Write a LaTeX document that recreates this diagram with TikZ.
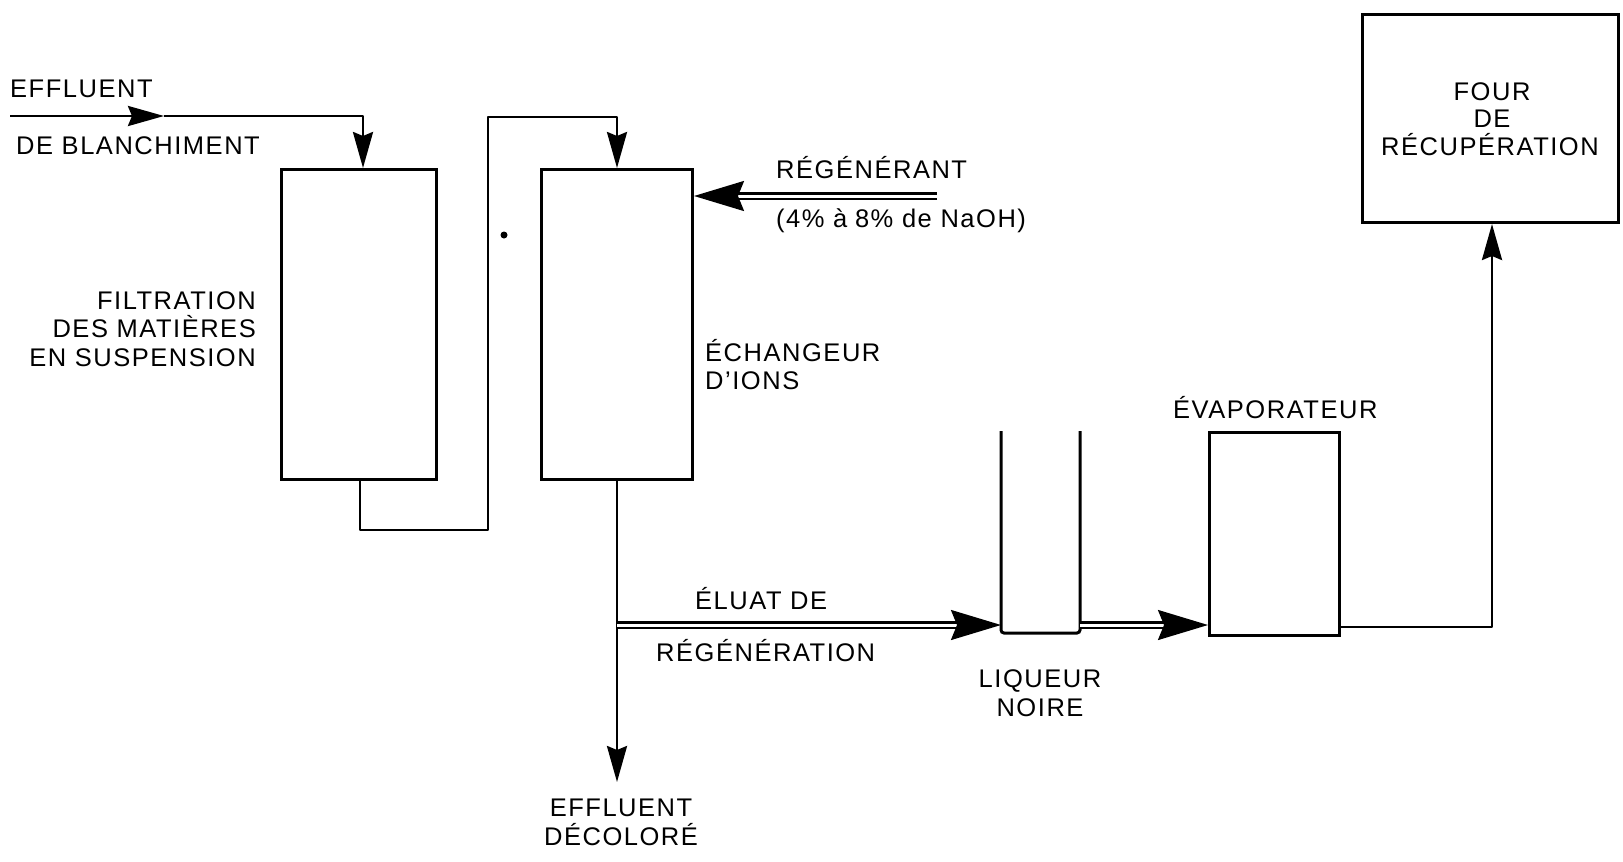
\documentclass[tikz,border=0pt]{standalone}
\usepackage{fontspec}
\setmainfont{Liberation Sans}[LetterSpace=6]
\usetikzlibrary{arrows.meta,calc}
\begin{document}
\begin{tikzpicture}[x=1pt,y=-1pt,
  lbl/.style={inner sep=0pt, font=\fontsize{25.5}{28}\selectfont},
  box/.style={draw, line width=3pt, inner sep=0pt, anchor=north west},
  pipe/.style={line width=2.8pt, line join=round},
  arr/.style={pipe, -{Stealth[length=36pt,width=20pt,inset=4pt]}},
  dbl/.style={line width=2.2pt, double, double distance=3pt, -{Stealth[length=50pt,width=30pt,inset=6pt]}}]
\useasboundingbox (0,0) rectangle (1623,862);

% boxes
\node[box, minimum width=155pt, minimum height=310pt] (filt) at (280,168) {};
\node[box, minimum width=151pt, minimum height=310pt] (ion) at (540,168) {};
\node[box, minimum width=130pt, minimum height=203pt] (evap) at (1208,431) {};
\node[box, minimum width=256pt, minimum height=208pt] (four) at (1361,13) {};
\coordinate (tankTL) at (1001,431);
\coordinate (tankTR) at (1080,431);
\draw[line width=3pt, rounded corners=3pt] (tankTL) -- (1001,633) -- (1080,633) -- (tankTR);

% labels
\node[lbl, anchor=base west] (t1) at (10,97) {EFFLUENT};
\node[lbl, anchor=base west] (t2) at (16,154) {DE BLANCHIMENT};
\node[lbl, anchor=base east] (f1) at (256,309) {FILTRATION};
\node[lbl, anchor=base east] (f2) at (256,337) {DES MATIÈRES};
\node[lbl, anchor=base east] (f3) at (256,366) {EN SUSPENSION};
\node[lbl, anchor=base west] (r1) at (776,178) {RÉGÉNÉRANT};
\node[lbl, anchor=base west] (r2) at (776,227) {(4\% à\hspace{0.3em}8\% de NaOH)};
\node[lbl, anchor=base west] (i1) at (705,361) {ÉCHANGEUR};
\node[lbl, anchor=base west] (i2) at (705,389) {D’IONS};
\node[lbl, anchor=base west] (e1) at (695,609) {ÉLUAT DE};
\node[lbl, anchor=base west] (e2) at (656,661) {RÉGÉNÉRATION};
\node[lbl, anchor=base] (l1) at (1040,687) {LIQUEUR};
\node[lbl, anchor=base] (l2) at (1040,716) {NOIRE};
\node[lbl, anchor=base west] (v1) at (1173,418) {ÉVAPORATEUR};
\node[lbl, anchor=base] (o1) at (1492,100) {FOUR};
\node[lbl, anchor=base] (o2) at (1492,127) {DE};
\node[lbl, anchor=base] (o3) at (1490,155) {RÉCUPÉRATION};
\node[lbl, anchor=base] (d1) at (621,816) {EFFLUENT};
\node[lbl, anchor=base] (d2) at (621,845) {DÉCOLORÉ};

% connectors
\coordinate (ein) at (10,116);
\coordinate (emid) at (164,116);
\coordinate (c1) at (363,116);
\draw[arr] (ein) -- (emid);
\draw[arr] (emid) -- (c1) -- (c1 |- filt.north);

\coordinate (p1) at (360,530);
\coordinate (p2) at (488,530);
\coordinate (p3) at (488,117);
\coordinate (p4) at (617,117);
\draw[arr] (p1 |- filt.south) -- (p1) -- (p2) -- (p3) -- (p4) -- (p4 |- ion.north);

\coordinate (reg) at (937,196);
\draw[dbl] (reg) -- (reg -| ion.east);

\coordinate (eout) at (617,782);
\draw[arr] (eout |- ion.south) -- (eout);

\coordinate (el) at (617,625);
\draw[dbl] (el) -- (el -| tankTL);
\coordinate (tk) at (1080,625);
\draw[dbl] (tk) -- (tk -| evap.west);

\coordinate (q1) at (1338,627);
\coordinate (q2) at (1492,627);
\draw[arr] (evap.east |- q1) -- (q2) -- (q2 |- four.south);

\fill (504,235) circle (3.5pt);
\end{tikzpicture}
\end{document}
